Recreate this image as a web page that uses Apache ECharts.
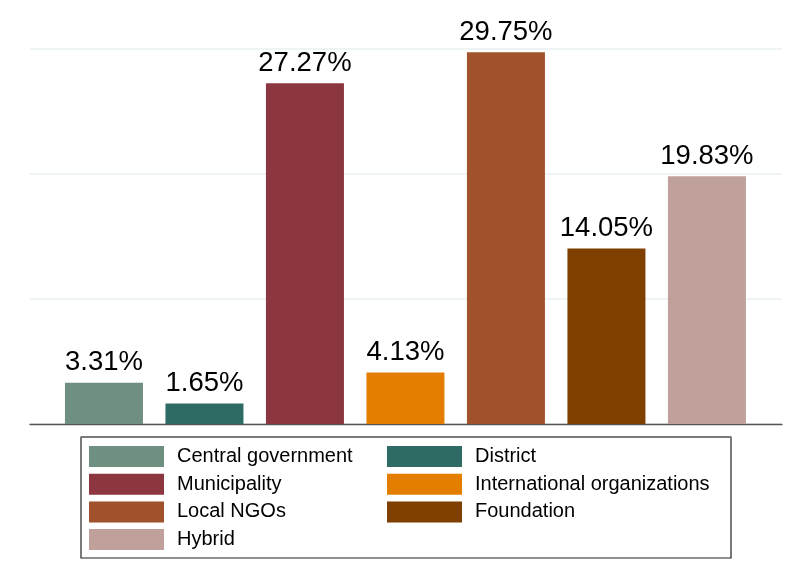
<!DOCTYPE html>
<html>
<head>
<meta charset="utf-8">
<script src="https://cdn.jsdelivr.net/npm/echarts@6/dist/echarts.min.js"></script>
<style>
  html, body { margin: 0; padding: 0; background: #fff; }
  #chart { width: 785px; height: 577px; }
</style>
</head>
<body>
<div id="chart"></div>
<script>
// Share of actors (%)
const categories = [
  'Central government', 'District', 'Municipality',
  'International organizations', 'Local NGOs', 'Foundation', 'Hybrid'
];
const shares = [3.31, 1.65, 27.27, 4.13, 29.75, 14.05, 19.83];
const colors = ['#6f8f80', '#2d6b64', '#8c3640', '#e37e00', '#a0522d', '#7f3f00', '#c0a09b'];
const yTicks = [0, 10, 20, 30];

// Legend columns (row-major order in two columns)
const legendLeft = categories.filter((_, i) => i % 2 === 0);
const legendRight = categories.filter((_, i) => i % 2 === 1);

const FONT = "'Liberation Sans', Arial, Helvetica, sans-serif";

const series = categories.map((name, i) => ({
  name: name,
  type: 'bar',
  stack: 'all',
  barWidth: 78,
  itemStyle: { color: colors[i] },
  label: {
    show: true,
    position: 'top',
    distance: 6,
    fontFamily: FONT,
    fontSize: 27.5,
    color: '#000',
    formatter: p => p.value[1].toFixed(2) + '%'
  },
  data: [[i, shares[i]]]
}));

const legendCommon = {
  orient: 'vertical',
  top: 446,
  padding: 0,
  itemWidth: 75,
  itemHeight: 21,
  itemGap: 6.7,
  icon: 'rect',
  selectedMode: false,
  textStyle: { fontFamily: FONT, fontSize: 20, color: '#000', padding: [0, 0, 0, 8] }
};

const chart = echarts.init(document.getElementById('chart'), null, { renderer: 'canvas' });
chart.setOption({
  animation: false,
  backgroundColor: '#fff',
  grid: { left: 30, right: 3, top: 49, bottom: 153 },
  xAxis: {
    type: 'value',
    min: -0.736,
    max: 6.747,
    axisLabel: { show: false },
    axisTick: { show: false },
    splitLine: { show: false },
    axisLine: { show: true, lineStyle: { color: '#555', width: 1.3 } }
  },
  yAxis: {
    type: 'value',
    min: yTicks[0],
    max: yTicks[yTicks.length - 1],
    interval: yTicks[1] - yTicks[0],
    axisLabel: { show: false },
    axisTick: { show: false },
    axisLine: { show: false },
    splitLine: { show: true, lineStyle: { color: '#e9eff3', width: 1.5 } }
  },
  legend: [
    Object.assign({}, legendCommon, { left: 89, data: legendLeft }),
    Object.assign({}, legendCommon, { left: 387, data: legendRight })
  ],
  graphic: [
    {
      type: 'rect',
      shape: { x: 81, y: 437, width: 650, height: 121 },
      style: { fill: 'none', stroke: '#222', lineWidth: 1.2 },
      z: 0
    },
    {
      type: 'line',
      shape: { x1: 81, y1: 437, x2: 731, y2: 437 },
      style: { stroke: '#7a7a7a', lineWidth: 2 },
      z: 1
    }
  ],
  series: series
});
</script>
</body>
</html>
